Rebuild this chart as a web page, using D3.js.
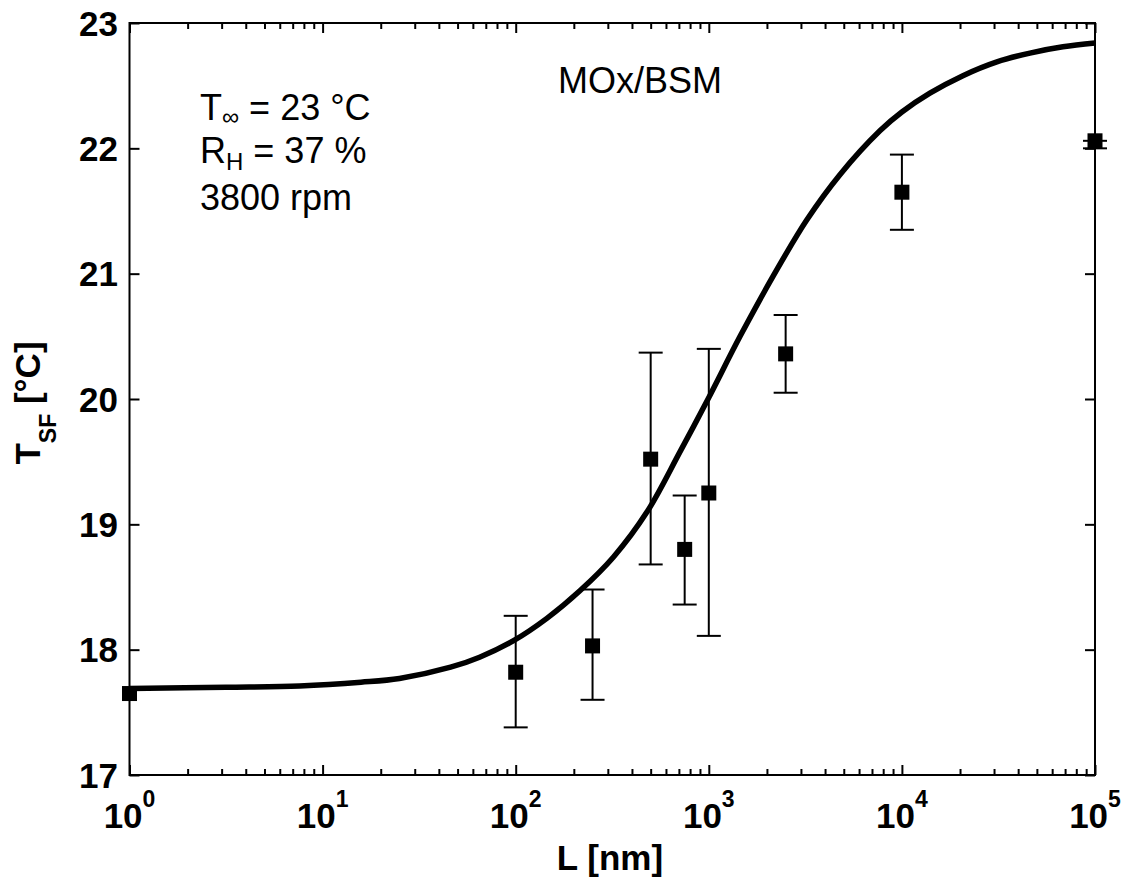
<!DOCTYPE html>
<html>
<head>
<meta charset="utf-8">
<script src="https://cdn.jsdelivr.net/npm/d3@7"></script>
<style>
  html, body { margin: 0; padding: 0; background: #fff; }
  svg { display: block; }
  text { font-family: "Liberation Sans", Arial, sans-serif; fill: #000; }
</style>
</head>
<body>
<svg id="chart" width="1125" height="882"></svg>
<script>
// ---- data ----
const pointL   = [1, 100, 250, 500, 750, 1000, 2500, 10000, 100000];
const pointT   = [17.65, 17.82, 18.03, 19.52, 18.80, 19.25, 20.36, 21.65, 22.06];
const errLow   = [17.65, 17.38, 17.60, 18.68, 18.36, 18.11, 20.05, 21.35, 22.00];
const errHigh  = [17.65, 18.27, 18.48, 20.37, 19.23, 20.40, 20.67, 21.95, 22.06];

const curveL = [1, 3.16, 7.6, 15.8, 25, 46, 65, 97, 145, 215, 321, 479, 710, 991, 1452, 2153, 3221, 4775, 7691, 10000, 13964, 20701, 31046, 46026, 68234, 100000];
const curveT = [17.69, 17.70, 17.71, 17.74, 17.77, 17.86, 17.94, 18.07, 18.25, 18.47, 18.74, 19.10, 19.58, 20.00, 20.50, 20.98, 21.43, 21.79, 22.14, 22.29, 22.44, 22.58, 22.69, 22.76, 22.81, 22.84];

const yTicks = [17, 18, 19, 20, 21, 22, 23];
const xMajor = [1, 10, 100, 1000, 10000, 100000];
const xExp   = ["0", "1", "2", "3", "4", "5"];

// ---- layout ----
const L = 129.5, R = 1095, T = 23, B = 775;
const svg = d3.select("#chart");

const x = d3.scaleLog().domain([1, 1e5]).range([L, R]);
const y = d3.scaleLinear().domain([17, 23]).range([B, T]);

const xMinor = [];
for (let d = 0; d < 5; d++) for (let k = 2; k <= 9; k++) xMinor.push(k * Math.pow(10, d));

function styleAxis(g) {
  g.select(".domain").remove();
  g.selectAll("line").attr("stroke", "#000").attr("stroke-width", 2);
  g.selectAll("text").remove();
}

// ticks (inward)
svg.append("g").attr("transform", `translate(0,${B})`)
  .call(d3.axisBottom(x).tickValues(xMajor).tickSize(-10).tickSizeOuter(0)).call(styleAxis);
svg.append("g").attr("transform", `translate(0,${B})`)
  .call(d3.axisBottom(x).tickValues(xMinor).tickSize(-6).tickSizeOuter(0)).call(styleAxis);
svg.append("g").attr("transform", `translate(0,${T})`)
  .call(d3.axisTop(x).tickValues(xMajor).tickSize(-10).tickSizeOuter(0)).call(styleAxis);
svg.append("g").attr("transform", `translate(0,${T})`)
  .call(d3.axisTop(x).tickValues(xMinor).tickSize(-6).tickSizeOuter(0)).call(styleAxis);
svg.append("g").attr("transform", `translate(${L},0)`)
  .call(d3.axisLeft(y).tickValues(yTicks).tickSize(-10).tickSizeOuter(0)).call(styleAxis);
svg.append("g").attr("transform", `translate(${R},0)`)
  .call(d3.axisRight(y).tickValues(yTicks).tickSize(-10).tickSizeOuter(0)).call(styleAxis);

// frame
svg.append("rect").attr("x", L).attr("y", T).attr("width", R - L).attr("height", B - T)
  .attr("fill", "none").attr("stroke", "#000").attr("stroke-width", 2);

// y tick labels
svg.append("g").selectAll("text").data(yTicks).join("text")
  .attr("x", 118).attr("y", d => y(d)).attr("dy", "0.36em")
  .attr("text-anchor", "end").attr("font-size", 35).attr("font-weight", "bold")
  .text(d => d);

// x tick labels
const xl = svg.append("g").selectAll("text").data(xMajor).join("text")
  .attr("x", d => x(d)).attr("y", 828)
  .attr("text-anchor", "middle").attr("font-size", 35).attr("font-weight", "bold");
xl.append("tspan").text("10");
xl.append("tspan").attr("dy", -21).attr("font-size", 23).text((d, i) => xExp[i]);

// axis titles
svg.append("text").attr("x", 610).attr("y", 870).attr("text-anchor", "middle")
  .attr("font-size", 35).attr("font-weight", "bold").text("L [nm]");

const yl = svg.append("text").attr("transform", "translate(40,403) rotate(-90)")
  .attr("text-anchor", "middle").attr("font-size", 35).attr("font-weight", "bold");
yl.append("tspan").text("T");
yl.append("tspan").attr("dy", 16).attr("font-size", 23).text("SF");
yl.append("tspan").attr("dy", -16).text(" [°C]");

// fitted curve
const line = d3.line().x(d => x(d[0])).y(d => y(d[1])).curve(d3.curveCatmullRom.alpha(0.5));
svg.append("path").datum(curveL.map((l, i) => [l, curveT[i]]))
  .attr("d", line).attr("fill", "none").attr("stroke", "#000").attr("stroke-width", 5.5)
  .attr("stroke-linejoin", "round");

// error bars
const pts = pointL.map((l, i) => ({ l, t: pointT[i], lo: errLow[i], hi: errHigh[i] }));
const eb = svg.append("g").attr("stroke", "#000").attr("stroke-width", 2);
pts.filter(p => p.hi > p.lo).forEach(p => {
  const cx = x(p.l);
  eb.append("line").attr("x1", cx).attr("x2", cx).attr("y1", y(p.lo)).attr("y2", y(p.hi));
  eb.append("line").attr("x1", cx - 12).attr("x2", cx + 12).attr("y1", y(p.lo)).attr("y2", y(p.lo));
  eb.append("line").attr("x1", cx - 12).attr("x2", cx + 12).attr("y1", y(p.hi)).attr("y2", y(p.hi));
});

// markers
svg.append("g").selectAll("rect").data(pts).join("rect")
  .attr("x", d => x(d.l) - 7.5).attr("y", d => y(d.t) - 7.5)
  .attr("width", 15).attr("height", 15).attr("fill", "#000");

// annotations
const ann = svg.append("g").attr("font-size", 36);
const a1 = ann.append("text").attr("x", 200).attr("y", 120);
a1.append("tspan").text("T");
a1.append("tspan").attr("dy", 5).attr("font-size", 24).text("∞");
a1.append("tspan").attr("dy", -5).text(" = 23 °C");
const a2 = ann.append("text").attr("x", 200).attr("y", 163);
a2.append("tspan").text("R");
a2.append("tspan").attr("dy", 7).attr("font-size", 24).text("H");
a2.append("tspan").attr("dy", -7).text(" = 37 %");
ann.append("text").attr("x", 200).attr("y", 210).text("3800 rpm");
ann.append("text").attr("x", 558).attr("y", 93).text("MOx/BSM");
</script>
</body>
</html>
